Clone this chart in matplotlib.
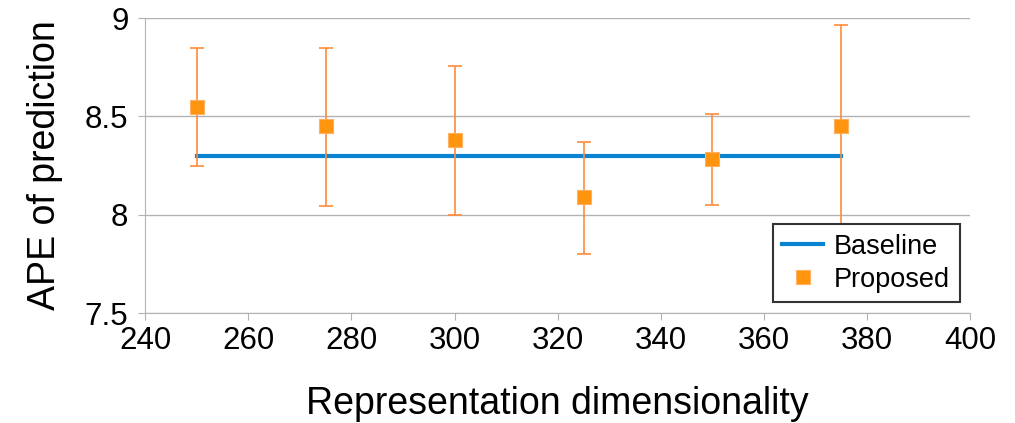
import matplotlib
matplotlib.use('agg')
import matplotlib.pyplot as plt

# Data
dims = [250, 275, 300, 325, 350, 375]
proposed = [8.55, 8.45, 8.38, 8.09, 8.285, 8.45]
err_low = [8.25, 8.045, 8.0, 7.80, 8.05, 7.9]
err_high = [8.85, 8.85, 8.755, 8.37, 8.515, 8.965]
baseline_x = [250, 375]
baseline_y = [8.3, 8.3]

plt.rcParams['font.family'] = ['Liberation Sans', 'DejaVu Sans']

fig = plt.figure(figsize=(10.15, 4.23), dpi=100)
ax = fig.add_axes([0.143, 0.26, 0.813, 0.697])

lower = [p - l for p, l in zip(proposed, err_low)]
upper = [h - p for p, h in zip(proposed, err_high)]

ax.plot(baseline_x, baseline_y, color='#0a84d0', linewidth=3, label='Baseline', zorder=3)
ax.errorbar(dims, proposed, yerr=[lower, upper], fmt='none', ecolor='#ff8a3a',
            elinewidth=1.2, capsize=5, capthick=1.2, zorder=4)
ax.plot(dims, proposed, linestyle='none', marker='s', markersize=10,
        color='#ff950e', markeredgecolor='#ffb060', markeredgewidth=0.8,
        label='Proposed', zorder=5)

ax.set_xlim(240, 400)
ax.set_ylim(7.5, 9)
ax.set_xticks(range(240, 401, 20))
ax.set_yticks([7.5, 8, 8.5, 9])
ax.set_yticklabels(['7.5', '8', '8.5', '9'])

ax.grid(True, axis='y', color='#b3b3b3', linewidth=1)
ax.set_axisbelow(True)
for side in ['top', 'right']:
    ax.spines[side].set_visible(False)
ax.spines['left'].set_color('#b3b3b3')
ax.spines['bottom'].set_color('#b3b3b3')
ax.tick_params(axis='both', labelsize=22.5, color='#b3b3b3', length=5)
ax.tick_params(axis='y', pad=7)
ax.tick_params(axis='x', pad=4)

ax.set_xlabel('Representation dimensionality', fontsize=27, labelpad=22)
ax.set_ylabel('APE of prediction', fontsize=27, labelpad=16)

leg = ax.legend(loc='lower right', fontsize=19.5, frameon=True, fancybox=False,
                edgecolor='#333333', framealpha=1, borderaxespad=0.4,
                handlelength=1.5, handletextpad=0.4, borderpad=0.35, labelspacing=0.25)
leg.get_frame().set_linewidth(1.5)
leg.set_zorder(10)

plt.savefig('out.png', dpi=100)
